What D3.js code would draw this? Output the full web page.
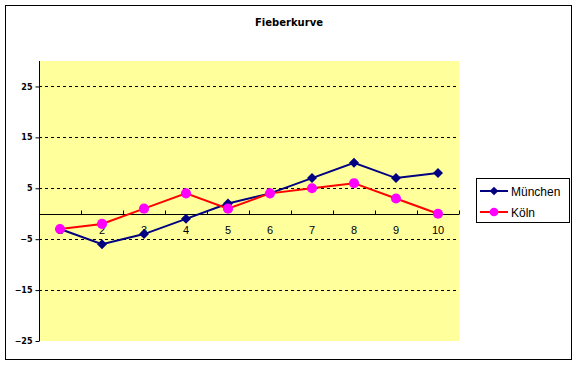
<!DOCTYPE html>
<html>
<head>
<meta charset="utf-8">
<script src="https://cdn.jsdelivr.net/npm/d3@7"></script>
<style>
body { margin: 0; background: #fff; }
</style>
</head>
<body>
<div id="chart"></div>
<script>
var categories = [1, 2, 3, 4, 5, 6, 7, 8, 9, 10];
var muenchen = [-3, -6, -4, -1, 2, 4, 7, 10, 7, 8];
var koeln = [-3, -2, 1, 4, 1, 4, 5, 6, 3, 0];
var yTicks = [-25, -15, -5, 5, 15, 25];

var svg = d3.select('#chart')
    .append('svg')
    .attr('width', 578)
    .attr('height', 366);

// outer frame
svg.append('rect')
    .attr('x', 5.5).attr('y', 5.5)
    .attr('width', 566).attr('height', 354)
    .attr('fill', '#fff')
    .attr('stroke', '#000')
    .attr('stroke-width', 1);

svg.append('text')
    .attr('x', 289).attr('y', 26)
    .attr('text-anchor', 'middle')
    .style('font-family', 'Verdana, DejaVu Sans, sans-serif')
    .style('font-size', '10px')
    .style('font-weight', 'bold')
    .text('Fieberkurve');

var plot = { left: 39, top: 61, right: 459, bottom: 341 };

var x = d3.scaleBand()
    .domain(categories)
    .range([plot.left, plot.right]);
var y = d3.scaleLinear()
    .domain([-25, 30])
    .range([plot.bottom, plot.top]);

svg.append('rect')
    .attr('x', plot.left).attr('y', plot.top)
    .attr('width', plot.right - plot.left)
    .attr('height', plot.bottom - plot.top)
    .attr('fill', '#FFFF9C');

// grid lines
svg.append('g').selectAll('line')
    .data(yTicks.filter(function (d) { return d > -25; }))
    .enter().append('line')
    .attr('x1', plot.left).attr('x2', plot.right)
    .attr('y1', function (d) { return Math.round(y(d)) + 0.5; })
    .attr('y2', function (d) { return Math.round(y(d)) + 0.5; })
    .attr('stroke', '#000')
    .attr('stroke-dasharray', '3,3');

// y axis
var yAxis = svg.append('g')
    .attr('transform', 'translate(' + (plot.left + 0.5) + ',0)')
    .call(d3.axisLeft(y).tickValues(yTicks).tickSize(4).tickSizeOuter(0));
yAxis.select('.domain').attr('d', 'M0,' + plot.top + 'V' + plot.bottom);
yAxis.selectAll('text')
    .style('font-family', 'Verdana, DejaVu Sans, sans-serif')
    .style('font-size', '8px')
    .style('font-weight', 'bold')
    .attr('fill', '#000');

// x axis at 0
var y0 = Math.round(y(0)) + 0.5;
svg.append('line')
    .attr('x1', plot.left).attr('x2', plot.right)
    .attr('y1', y0).attr('y2', y0)
    .attr('stroke', '#000');
svg.append('g').selectAll('line')
    .data(categories)
    .enter().append('line')
    .attr('x1', function (d) { return Math.round(x(d) + x.bandwidth()) + 0.5; })
    .attr('x2', function (d) { return Math.round(x(d) + x.bandwidth()) + 0.5; })
    .attr('y1', y0).attr('y2', y0 - 4)
    .attr('stroke', '#000');
svg.append('g').selectAll('text')
    .data(categories)
    .enter().append('text')
    .attr('x', function (d) { return x(d) + x.bandwidth() / 2; })
    .attr('y', y0 + 19)
    .attr('text-anchor', 'middle')
    .style('font-family', 'Arial, Liberation Sans, sans-serif')
    .style('font-size', '11px')
    .text(function (d) { return d; });

var line = d3.line()
    .x(function (d, i) { return x(categories[i]) + x.bandwidth() / 2; })
    .y(function (d) { return y(d); });

// diamond = square turned 45 degrees
var series = [
    { name: 'München', values: muenchen, color: '#000080', marker: '#000080', shape: d3.symbolSquare, size: 50, rot: 45 },
    { name: 'Köln', values: koeln, color: '#FF0000', marker: '#FF00FF', shape: d3.symbolCircle, size: 80, rot: 0 }
];

series.forEach(function (s) {
    svg.append('path')
        .datum(s.values)
        .attr('fill', 'none')
        .attr('stroke', s.color)
        .attr('stroke-width', 2)
        .attr('d', line);
    svg.append('g').selectAll('path')
        .data(s.values)
        .enter().append('path')
        .attr('transform', function (d, i) {
            return 'translate(' + (x(categories[i]) + x.bandwidth() / 2) + ',' + y(d) + ') rotate(' + s.rot + ')';
        })
        .attr('d', d3.symbol().type(s.shape).size(s.size))
        .attr('fill', s.marker);
});

// legend
var legend = svg.append('g').attr('transform', 'translate(476,178)');
legend.append('rect')
    .attr('x', 0.5).attr('y', 0.5)
    .attr('width', 93).attr('height', 44)
    .attr('fill', '#fff')
    .attr('stroke', '#000');
series.forEach(function (s, i) {
    var ly = 13 + i * 21;
    legend.append('line')
        .attr('x1', 4).attr('x2', 32)
        .attr('y1', ly).attr('y2', ly)
        .attr('stroke', s.color)
        .attr('stroke-width', 2);
    legend.append('path')
        .attr('transform', 'translate(18,' + ly + ') rotate(' + s.rot + ')')
        .attr('d', d3.symbol().type(s.shape).size(s.size * 0.75))
        .attr('fill', s.marker);
    legend.append('text')
        .attr('x', 35).attr('y', ly + 4.5)
        .style('font-family', 'Arial, Liberation Sans, sans-serif')
        .style('font-size', '12px')
        .text(s.name);
});
</script>
</body>
</html>
